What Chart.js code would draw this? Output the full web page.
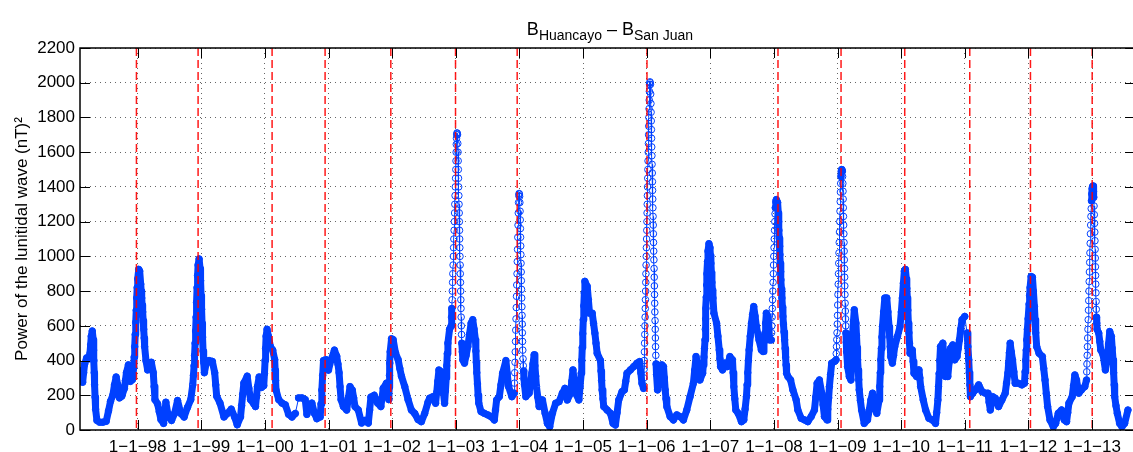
<!DOCTYPE html>
<html>
<head>
<meta charset="utf-8">
<title>Lunitidal wave power</title>
<script src="https://cdn.jsdelivr.net/npm/chart.js@4.4.1/dist/chart.umd.min.js"></script>
<style>
  html, body { margin: 0; padding: 0; background: #fff; overflow: hidden; }
  #wrap { position: relative; width: 1140px; height: 452px; }
  #lunarChart { position: absolute; left: 0; top: 0; }
  #plotTitle {
    position: absolute; left: 80px; width: 1060px; top: 20px;
    text-align: center; white-space: nowrap; color: #000;
    font: 18px "Liberation Sans", Arial, Helvetica, sans-serif; line-height: 18px;
  }
  #plotTitle sub { font-size: 14px; vertical-align: -5px; line-height: 0; }
</style>
</head>
<body>
<div id="wrap">
  <canvas id="lunarChart" width="1140" height="452"></canvas>
  <div id="plotTitle">B<sub>Huancayo</sub> – B<sub>San Juan</sub></div>
</div>
<script>
// x axis: decimal years, one labelled tick per 1 January
const yearTicks = [1998, 1999, 2000, 2001, 2002, 2003, 2004, 2005, 2006, 2007, 2008, 2009, 2010, 2011, 2012, 2013];
const yearTickLabels = ['1−1−98', '1−1−99', '1−1−00', '1−1−01', '1−1−02', '1−1−03', '1−1−04', '1−1−05',
                        '1−1−06', '1−1−07', '1−1−08', '1−1−09', '1−1−10', '1−1−11', '1−1−12', '1−1−13'];

// start-of-year markers (red dashed)
const januaryMarks = [1997.980, 1998.949, 2000.112, 2000.945, 2001.978, 2002.995, 2003.964,
                      2006.004, 2008.063, 2009.054, 2010.055, 2011.077, 2012.031, 2013.001];

// sample times (decimal years)
const years = [
  1997.093, 1997.114, 1997.135, 1997.150, 1997.166, 1997.197, 1997.228, 1997.249, 1997.260, 1997.270,
  1997.286, 1997.301, 1997.306, 1997.312, 1997.317, 1997.322, 1997.330, 1997.338, 1997.359, 1997.400,
  1997.453, 1997.505, 1997.541, 1997.572, 1997.609, 1997.635, 1997.661, 1997.687, 1997.713, 1997.750,
  1997.791, 1997.807, 1997.823, 1997.854, 1997.870, 1997.885, 1997.917, 1997.937, 1997.945, 1997.953,
  1997.961, 1997.969, 1997.977, 1997.984, 1997.992,

  1998.000, 1998.016, 1998.031, 1998.047, 1998.055, 1998.063, 1998.070, 1998.078, 1998.086, 1998.094,
  1998.102, 1998.109, 1998.130, 1998.156, 1998.182, 1998.214, 1998.245, 1998.258, 1998.271, 1998.313,
  1998.339, 1998.365, 1998.407, 1998.425, 1998.443, 1998.480, 1998.532, 1998.579, 1998.626, 1998.678,
  1998.730, 1998.782, 1998.834, 1998.865, 1998.876, 1998.886, 1998.894, 1998.902, 1998.910, 1998.918,
  1998.925, 1998.933, 1998.941, 1998.949, 1998.965, 1998.980, 1998.988, 1998.996,

  1999.004, 1999.011, 1999.019, 1999.027, 1999.037, 1999.048, 1999.074, 1999.121, 1999.173, 1999.210,
  1999.226, 1999.241, 1999.293, 1999.356, 1999.408, 1999.470, 1999.522, 1999.564, 1999.616, 1999.633,
  1999.650, 1999.668, 1999.721, 1999.747, 1999.773, 1999.825, 1999.851, 1999.866, 1999.882, 1999.908,
  1999.945, 1999.981, 1999.992,

  2000.002, 2000.010, 2000.018, 2000.033, 2000.054, 2000.086, 2000.122, 2000.153, 2000.160, 2000.167,
  2000.174, 2000.216, 2000.268, 2000.320, 2000.372, 2000.424, 2000.477, 2000.529, 2000.581, 2000.633,
  2000.659, 2000.696, 2000.737, 2000.779, 2000.815, 2000.868, 2000.881, 2000.894, 2000.907, 2000.920,
  2000.956, 2000.998,

  2001.040, 2001.092, 2001.128, 2001.147, 2001.165, 2001.180, 2001.196, 2001.233, 2001.285, 2001.311,
  2001.337, 2001.373, 2001.394, 2001.415, 2001.467, 2001.519, 2001.571, 2001.624, 2001.645, 2001.665,
  2001.717, 2001.770, 2001.822, 2001.840, 2001.858, 2001.910, 2001.928, 2001.947, 2001.952, 2001.957,
  2001.962, 2001.968, 2001.989,

  2002.015, 2002.051, 2002.093, 2002.119, 2002.145, 2002.197, 2002.249, 2002.301, 2002.354, 2002.406,
  2002.458, 2002.510, 2002.562, 2002.588, 2002.640, 2002.682, 2002.699, 2002.716, 2002.734, 2002.771,
  2002.788, 2002.805, 2002.823, 2002.836, 2002.849, 2002.857, 2002.866, 2002.875, 2002.901,
  2002.927, 2002.932, 2002.937, 2002.941, 2002.945, 2002.949, 2002.953, 2002.957, 2002.961, 2002.965,
  2002.969, 2002.973, 2002.977, 2002.9805, 2002.984, 2002.988, 2002.992, 2002.996,

  2003.000, 2003.0025, 2003.005, 2003.0075, 2003.010, 2003.014, 2003.018, 2003.022, 2003.026, 2003.030,
  2003.034, 2003.0365, 2003.039, 2003.0415, 2003.044, 2003.047, 2003.050, 2003.0525, 2003.055, 2003.0575,
  2003.060, 2003.0625, 2003.065, 2003.0675, 2003.070, 2003.073, 2003.076, 2003.0785, 2003.081, 2003.0835,
  2003.086, 2003.090, 2003.094, 2003.102, 2003.110,
  2003.136, 2003.162, 2003.188, 2003.214, 2003.240, 2003.266, 2003.287, 2003.308, 2003.315, 2003.322,
  2003.329, 2003.340, 2003.350, 2003.360, 2003.396, 2003.448, 2003.501, 2003.553, 2003.605, 2003.623,
  2003.641, 2003.683, 2003.709, 2003.735, 2003.787, 2003.808, 2003.829, 2003.881, 2003.918,
  2003.922, 2003.926, 2003.930, 2003.934, 2003.938, 2003.942, 2003.946, 2003.950, 2003.954, 2003.958,
  2003.962, 2003.966, 2003.970, 2003.974, 2003.978, 2003.982, 2003.986, 2003.990, 2003.994, 2003.998,

  2004.002, 2004.006, 2004.009, 2004.012, 2004.0145, 2004.017, 2004.0195, 2004.022, 2004.0245, 2004.027,
  2004.0295, 2004.032, 2004.035, 2004.038, 2004.0405, 2004.043, 2004.0455, 2004.048, 2004.052, 2004.056,
  2004.060, 2004.064, 2004.071, 2004.079, 2004.100,
  2004.152, 2004.173, 2004.194, 2004.212, 2004.231, 2004.243, 2004.255, 2004.267, 2004.288, 2004.309,
  2004.361, 2004.403, 2004.439, 2004.476, 2004.517, 2004.569, 2004.622, 2004.674, 2004.715, 2004.752,
  2004.804, 2004.822, 2004.841, 2004.861, 2004.882, 2004.934, 2004.952, 2004.971, 2004.979, 2004.987,
  2004.995,

  2005.003, 2005.011, 2005.019, 2005.028, 2005.065, 2005.083, 2005.101, 2005.143, 2005.164, 2005.185,
  2005.203, 2005.221, 2005.273, 2005.282, 2005.291, 2005.299, 2005.312, 2005.325, 2005.378, 2005.430,
  2005.471, 2005.508, 2005.534, 2005.560, 2005.612, 2005.649, 2005.670, 2005.690, 2005.743, 2005.795,
  2005.847, 2005.889, 2005.907, 2005.925, 2005.951,
  2005.955, 2005.959, 2005.9615, 2005.964, 2005.9665, 2005.969, 2005.972, 2005.975, 2005.9775, 2005.980,
  2005.9825, 2005.985, 2005.9875, 2005.990, 2005.9925, 2005.995, 2005.998,

  2006.001, 2006.0035, 2006.006, 2006.0085, 2006.011, 2006.0135, 2006.016, 2006.0185, 2006.021, 2006.024,
  2006.027, 2006.0295, 2006.032, 2006.0345, 2006.037, 2006.0395, 2006.042, 2006.046, 2006.050, 2006.054,
  2006.058, 2006.062, 2006.066, 2006.0685, 2006.071, 2006.0735, 2006.076, 2006.0785, 2006.081, 2006.084,
  2006.087, 2006.0895, 2006.092, 2006.0945, 2006.097, 2006.0995, 2006.102, 2006.1045, 2006.107, 2006.110,
  2006.113, 2006.1155, 2006.118, 2006.1205, 2006.123, 2006.1255, 2006.128, 2006.131, 2006.134, 2006.1365,
  2006.139, 2006.143, 2006.147, 2006.154, 2006.170,
  2006.201, 2006.220, 2006.238, 2006.264, 2006.277, 2006.290, 2006.303, 2006.316, 2006.368, 2006.420,
  2006.472, 2006.525, 2006.577, 2006.629, 2006.681, 2006.733, 2006.754, 2006.775, 2006.811, 2006.837,
  2006.879, 2006.890, 2006.900, 2006.908, 2006.916, 2006.921, 2006.926, 2006.931, 2006.936, 2006.942,
  2006.947, 2006.955, 2006.963, 2006.978, 2006.994,

  2007.001, 2007.009, 2007.017, 2007.025, 2007.033, 2007.041, 2007.056, 2007.098, 2007.119, 2007.140,
  2007.150, 2007.161, 2007.192, 2007.228, 2007.265, 2007.307, 2007.348, 2007.358, 2007.369, 2007.384,
  2007.400, 2007.437, 2007.489, 2007.526, 2007.546, 2007.567, 2007.578, 2007.588, 2007.598, 2007.609,
  2007.627, 2007.646, 2007.664, 2007.682, 2007.703, 2007.724, 2007.765, 2007.802, 2007.828, 2007.843,
  2007.859, 2007.869, 2007.880, 2007.906, 2007.919, 2007.932, 2007.958,
  2007.962, 2007.966, 2007.970, 2007.974, 2007.978, 2007.982, 2007.986, 2007.990, 2007.9935, 2007.997,

  2008.001, 2008.005, 2008.009, 2008.013, 2008.017, 2008.021, 2008.029, 2008.037, 2008.057, 2008.068,
  2008.073, 2008.078, 2008.0835, 2008.089, 2008.094, 2008.099, 2008.1045, 2008.110, 2008.1175, 2008.125,
  2008.133, 2008.141, 2008.149, 2008.158, 2008.167, 2008.175, 2008.183, 2008.190, 2008.198, 2008.219,
  2008.261, 2008.297, 2008.349, 2008.375, 2008.428, 2008.480, 2008.532, 2008.584, 2008.636, 2008.657,
  2008.678, 2008.714, 2008.751, 2008.772, 2008.793, 2008.834, 2008.846, 2008.859, 2008.871, 2008.889,
  2008.907, 2008.949, 2008.975, 2008.979, 2008.983, 2008.987, 2008.991, 2008.995, 2008.999,

  2009.0025, 2009.006, 2009.010, 2009.014, 2009.018, 2009.022, 2009.026, 2009.030, 2009.034, 2009.038,
  2009.0415, 2009.045, 2009.049, 2009.053, 2009.058, 2009.064, 2009.069, 2009.074, 2009.078, 2009.082,
  2009.0845, 2009.087, 2009.0895, 2009.092, 2009.095, 2009.098, 2009.1005, 2009.103, 2009.1055, 2009.108,
  2009.1105, 2009.113, 2009.1155, 2009.118, 2009.121, 2009.124, 2009.1275, 2009.131, 2009.1365, 2009.142,
  2009.157, 2009.184, 2009.210, 2009.217, 2009.224, 2009.230, 2009.236, 2009.249, 2009.262, 2009.288,
  2009.297, 2009.306, 2009.314, 2009.323, 2009.332, 2009.340, 2009.358, 2009.377, 2009.418, 2009.470,
  2009.497, 2009.523, 2009.549, 2009.575, 2009.616, 2009.653, 2009.662, 2009.671, 2009.679, 2009.688,
  2009.697, 2009.705, 2009.723, 2009.742, 2009.773, 2009.791, 2009.809, 2009.818, 2009.827, 2009.835,
  2009.861, 2009.880, 2009.898, 2009.940, 2009.981,

  2010.002, 2010.018, 2010.034, 2010.049, 2010.065, 2010.080, 2010.088, 2010.096, 2010.104, 2010.112,
  2010.121, 2010.130, 2010.138, 2010.174, 2010.187, 2010.200, 2010.242, 2010.279, 2010.292, 2010.305,
  2010.346, 2010.383, 2010.435, 2010.487, 2010.539, 2010.557, 2010.576, 2010.586, 2010.596, 2010.606,
  2010.617, 2010.654, 2010.668, 2010.682, 2010.696, 2010.732, 2010.753, 2010.774, 2010.810, 2010.842,
  2010.878, 2010.896, 2010.915, 2010.935, 2010.956, 2010.998,

  2011.035, 2011.048, 2011.061, 2011.070, 2011.079, 2011.087, 2011.123, 2011.165, 2011.217, 2011.269,
  2011.321, 2011.363, 2011.381, 2011.400, 2011.436, 2011.478, 2011.530, 2011.582, 2011.634, 2011.655,
  2011.676, 2011.688, 2011.700, 2011.712, 2011.730, 2011.749, 2011.770, 2011.791, 2011.843, 2011.895,
  2011.937, 2011.947, 2011.957, 2011.965, 2011.973, 2011.983, 2011.994,

  2012.010, 2012.018, 2012.025, 2012.041, 2012.062, 2012.077, 2012.093, 2012.103, 2012.114, 2012.129,
  2012.166, 2012.218, 2012.239, 2012.260, 2012.280, 2012.301, 2012.338, 2012.390, 2012.427, 2012.468,
  2012.520, 2012.562, 2012.599, 2012.617, 2012.635, 2012.687, 2012.708, 2012.729, 2012.755, 2012.792,
  2012.833, 2012.885, 2012.912,
  2012.9155, 2012.919, 2012.923, 2012.927, 2012.931, 2012.935, 2012.939, 2012.943, 2012.947, 2012.951,
  2012.9545, 2012.958, 2012.962, 2012.966, 2012.970, 2012.974, 2012.978, 2012.982, 2012.986, 2012.990,
  2012.995,

  2013.000, 2013.008, 2013.016, 2013.021, 2013.026, 2013.030, 2013.034, 2013.038, 2013.042, 2013.0445,
  2013.047, 2013.0495, 2013.052, 2013.0545, 2013.057, 2013.060, 2013.063, 2013.0655, 2013.068, 2013.073,
  2013.078,
  2013.104, 2013.120, 2013.136, 2013.172, 2013.209, 2013.240, 2013.258, 2013.277, 2013.303,
  2013.316, 2013.329, 2013.338, 2013.347, 2013.355, 2013.375, 2013.396, 2013.433, 2013.469, 2013.511,
  2013.563
];

// power of the lunitidal wave, (nT)^2
const power = [
  340, 300, 275, 330, 380, 415, 410, 440, 490, 540,
  570, 520, 460, 400, 330, 260, 190, 120, 55, 45,
  45, 50, 110, 165, 200, 260, 305, 260, 185, 195,
  240, 285, 330, 375, 325, 280, 290, 360, 420, 480,
  550, 620, 690, 760, 820,

  870, 925, 915, 840, 800, 760, 720, 680, 630, 580,
  530, 480, 400, 346, 365, 390, 330, 250, 175, 150,
  105, 60, 38, 100, 160, 80, 55, 95, 170, 95,
  75, 130, 175, 260, 315, 370, 430, 500, 570, 650,
  735, 820, 890, 950, 985, 930, 860, 775,

  695, 615, 535, 455, 390, 330, 380, 400, 395, 330,
  260, 195, 155, 75, 95, 120, 75, 30, 75, 140,
  205, 270, 310, 240, 175, 150, 135, 190, 250, 305,
  245, 255, 325,

  400, 470, 540, 580, 540, 480, 460, 405, 345, 285,
  230, 175, 155, 145, 90, 75, 95, 185, 185, 175,
  90, 135, 155, 95, 65, 75, 150, 230, 315, 400,
  405, 345,

  405, 460, 425, 380, 330, 250, 175, 135, 115, 185,
  250, 230, 185, 135, 115, 40, 55, 40, 115, 190,
  200, 155, 135, 185, 240, 270, 225, 175, 245, 315,
  385, 450, 525,

  520, 445, 405, 355, 310, 250, 175, 115, 95, 60,
  48, 95, 160, 183, 192, 154, 215, 280, 345, 335,
  275, 215, 154, 225, 300, 370, 440, 500, 580,
  600, 650, 700, 750, 800, 850, 900, 950, 1000, 1050,
  1100, 1150, 1200, 1250, 1300, 1350, 1400, 1450,

  1500, 1550, 1600, 1645, 1680, 1700, 1711, 1708, 1700, 1650,
  1600, 1550, 1500, 1450, 1400, 1350, 1300, 1250, 1200, 1150,
  1100, 1050, 1000, 950, 900, 850, 800, 750, 700, 650,
  600, 550, 500, 450, 404,
  385, 430, 480, 550, 615, 635, 580, 519, 455, 390,
  330, 265, 200, 155, 106, 96, 87, 77, 58, 115,
  173, 192, 260, 327, 400, 325, 250, 192, 212,
  270, 330, 390, 450, 510, 575, 640, 705, 770, 835,
  900, 970, 1040, 1110, 1180, 1250, 1310, 1350, 1362, 1358,

  1345, 1310, 1260, 1210, 1160, 1110, 1060, 1010, 960, 910,
  860, 810, 760, 710, 660, 610, 560, 510, 460, 410,
  370, 340, 295, 260, 192,
  212, 270, 327, 380, 433, 370, 310, 250, 190, 135,
  173, 96, 38, 19, 96, 154, 163, 212, 240, 173,
  212, 280, 346, 280, 212, 173, 250, 327, 400, 475,
  555,

  635, 715, 790, 856, 827, 750, 673, 673, 615, 558,
  500, 442, 400, 340, 285, 231, 180, 135, 115, 96,
  38, 29, 100, 173, 221, 231, 280, 327, 346, 365,
  385, 394, 330, 269, 240,
  300, 350, 400, 450, 500, 550, 600, 650, 700, 750,
  800, 850, 900, 950, 1000, 1050, 1100,

  1150, 1200, 1250, 1300, 1350, 1400, 1450, 1500, 1550, 1600,
  1650, 1700, 1750, 1800, 1850, 1900, 1950, 1990, 2005, 2000,
  1990, 1935, 1880, 1830, 1780, 1730, 1680, 1630, 1580, 1530,
  1480, 1430, 1380, 1330, 1280, 1230, 1180, 1130, 1080, 1030,
  980, 930, 880, 830, 780, 730, 680, 630, 580, 530,
  480, 430, 380, 320, 231,
  288, 330, 375, 365, 300, 231, 180, 135, 77, 58,
  87, 77, 58, 115, 192, 269, 345, 423, 365, 288,
  327, 375, 420, 470, 519, 580, 640, 700, 765, 835,
  900, 970, 1030, 1073, 1050,

  1005, 960, 905, 850, 805, 760, 673, 615, 540, 461,
  410, 365, 346, 385, 365, 423, 404, 330, 250, 180,
  115, 96, 48, 58, 120, 192, 260, 330, 400, 461,
  540, 615, 665, 711, 655, 596, 519, 461, 452, 505,
  558, 615, 673, 654, 585, 519, 519,
  560, 600, 650, 700, 750, 800, 850, 900, 950, 1000,

  1050, 1100, 1150, 1200, 1245, 1280, 1315, 1327, 1310, 1250,
  1200, 1150, 1105, 1058, 1010, 960, 912, 865, 812, 760,
  707, 654, 610, 565, 519, 470, 420, 375, 327, 308,
  288, 231, 173, 115, 67, 58, 48, 77, 115, 190,
  269, 288, 212, 145, 77, 58, 120, 185, 250, 320,
  385, 394, 404, 440, 480, 520, 560, 610, 660,

  720, 780, 840, 900, 960, 1020, 1080, 1140, 1200, 1260,
  1315, 1370, 1420, 1460, 1490, 1500, 1498, 1490, 1460, 1420,
  1375, 1330, 1280, 1230, 1180, 1130, 1080, 1030, 980, 930,
  880, 830, 780, 730, 685, 640, 600, 558, 505, 450,
  365, 308, 288, 360, 430, 500, 558, 625, 692, 615,
  545, 475, 404, 345, 290, 231, 170, 115, 38, 58,
  115, 173, 212, 135, 96, 173, 250, 330, 404, 470,
  535, 596, 680, 760, 760, 680, 596, 540, 480, 423,
  385, 430, 480, 538, 596,

  680, 760, 845, 915, 925, 870, 815, 760, 690, 615,
  560, 500, 442, 461, 395, 327, 308, 346, 300, 250,
  173, 115, 67, 58, 38, 100, 173, 250, 325, 400,
  480, 500, 435, 370, 308, 308, 390, 470, 490, 404,
  423, 470, 519, 580, 635, 654,

  558, 480, 404, 330, 260, 192, 212, 231, 260, 221,
  212, 212, 160, 115, 192, 183, 135, 173, 212, 270,
  327, 385, 445, 500, 450, 404, 335, 269, 269, 260,
  269, 335, 400, 460, 519, 580, 640,

  725, 775, 820, 884, 880, 800, 711, 635, 560, 480,
  442, 423, 355, 288, 210, 135, 58, 19, 38, 96,
  115, 58, 48, 100, 154, 192, 255, 317, 288, 212,
  231, 250, 288,
  335, 380, 430, 480, 530, 580, 635, 690, 745, 800,
  855, 910, 965, 1020, 1075, 1130, 1180, 1230, 1275, 1320,
  1360,

  1390, 1402, 1405, 1375, 1340, 1290, 1240, 1190, 1140, 1090,
  1040, 990, 940, 890, 840, 790, 740, 695, 650, 615,
  580,
  558, 510, 461, 433, 346, 423, 495, 567, 538,
  470, 404, 330, 260, 192, 140, 96, 38, 19, 38,
  115
];

const points = years.map((t, i) => ({ x: t, y: power[i] }));

const FONT = { family: '"Liberation Sans", Arial, Helvetica, sans-serif', size: 17 };
const BLUE = '#0040ff';

// box around the axes, inward ticks and the red year markers
const axesFrame = {
  id: 'axesFrame',
  afterDatasetsDraw(chart) {
    const { ctx, chartArea: a, scales: { x, y } } = chart;
    ctx.save();

    ctx.strokeStyle = 'rgba(255,0,0,0.9)';
    ctx.lineWidth = 1.5;
    ctx.setLineDash([8, 4]);
    januaryMarks.forEach(v => {
      const px = x.getPixelForValue(v);
      ctx.beginPath();
      ctx.moveTo(px, a.top);
      ctx.lineTo(px, a.bottom);
      ctx.stroke();
    });
    ctx.setLineDash([]);

    ctx.strokeStyle = '#000';
    ctx.lineWidth = 1;
    const tl = 10;
    ctx.beginPath();
    x.ticks.forEach(t => {
      const px = Math.round(x.getPixelForValue(t.value)) + 0.5;
      ctx.moveTo(px, a.bottom); ctx.lineTo(px, a.bottom - tl);
      ctx.moveTo(px, a.top); ctx.lineTo(px, a.top + tl);
    });
    y.ticks.forEach(t => {
      const py = Math.round(y.getPixelForValue(t.value)) + 0.5;
      ctx.moveTo(a.left, py); ctx.lineTo(a.left + tl, py);
      ctx.moveTo(a.right, py); ctx.lineTo(a.right - tl, py);
    });
    ctx.stroke();

    ctx.lineWidth = 1.5;
    ctx.strokeRect(a.left, a.top, a.right - a.left, a.bottom - a.top);
    ctx.restore();
  }
};

new Chart(document.getElementById('lunarChart'), {
  type: 'line',
  data: {
    datasets: [{
      data: points,
      borderColor: BLUE,
      borderWidth: 1,
      borderJoinStyle: 'round',
      borderCapStyle: 'round',
      tension: 0,
      pointRadius: 3.3,
      pointBorderWidth: 1,
      pointBorderColor: BLUE,
      pointBackgroundColor: 'rgba(255,255,255,0)',
      // close markers merge into a solid band; near-vertical runs and long jumps stay a thin line
      segment: {
        borderWidth: c => {
          const dx = Math.abs(c.p1.x - c.p0.x);
          const dy = Math.abs(c.p1.y - c.p0.y);
          return (dx < 0.29 || dy > 15.5) ? 1 : 7;
        }
      }
    }]
  },
  options: {
    responsive: false,
    animation: false,
    events: [],
    layout: { padding: { top: 48, left: 0, right: 0, bottom: 0 } },
    plugins: {
      legend: { display: false },
      tooltip: { enabled: false }
    },
    scales: {
      x: {
        type: 'linear',
        min: 1997.093,
        max: 2013.674,
        afterBuildTicks: s => { s.ticks = yearTicks.map(v => ({ value: v })); },
        afterFit: s => { s.height = 22; },
        ticks: {
          autoSkip: false,
          maxRotation: 0,
          padding: 7,
          color: '#000',
          font: FONT,
          callback: v => yearTickLabels[yearTicks.indexOf(v)]
        },
        grid: { color: 'rgba(0,0,0,0.6)', lineWidth: 1, drawTicks: false },
        border: { display: false, dash: [1, 4] }
      },
      y: {
        min: 0,
        max: 2200,
        afterFit: s => { s.width = 80; },
        ticks: {
          stepSize: 200,
          padding: 5,
          color: '#000',
          font: FONT,
          callback: v => String(v)
        },
        grid: { color: 'rgba(0,0,0,0.6)', lineWidth: 1, drawTicks: false },
        border: { display: false, dash: [1, 4] },
        title: {
          display: true,
          text: 'Power of the lunitidal wave (nT)²',
          color: '#000',
          font: FONT,
          padding: { top: 12, bottom: 0 }
        }
      }
    }
  },
  plugins: [axesFrame]
});
</script>
</body>
</html>
